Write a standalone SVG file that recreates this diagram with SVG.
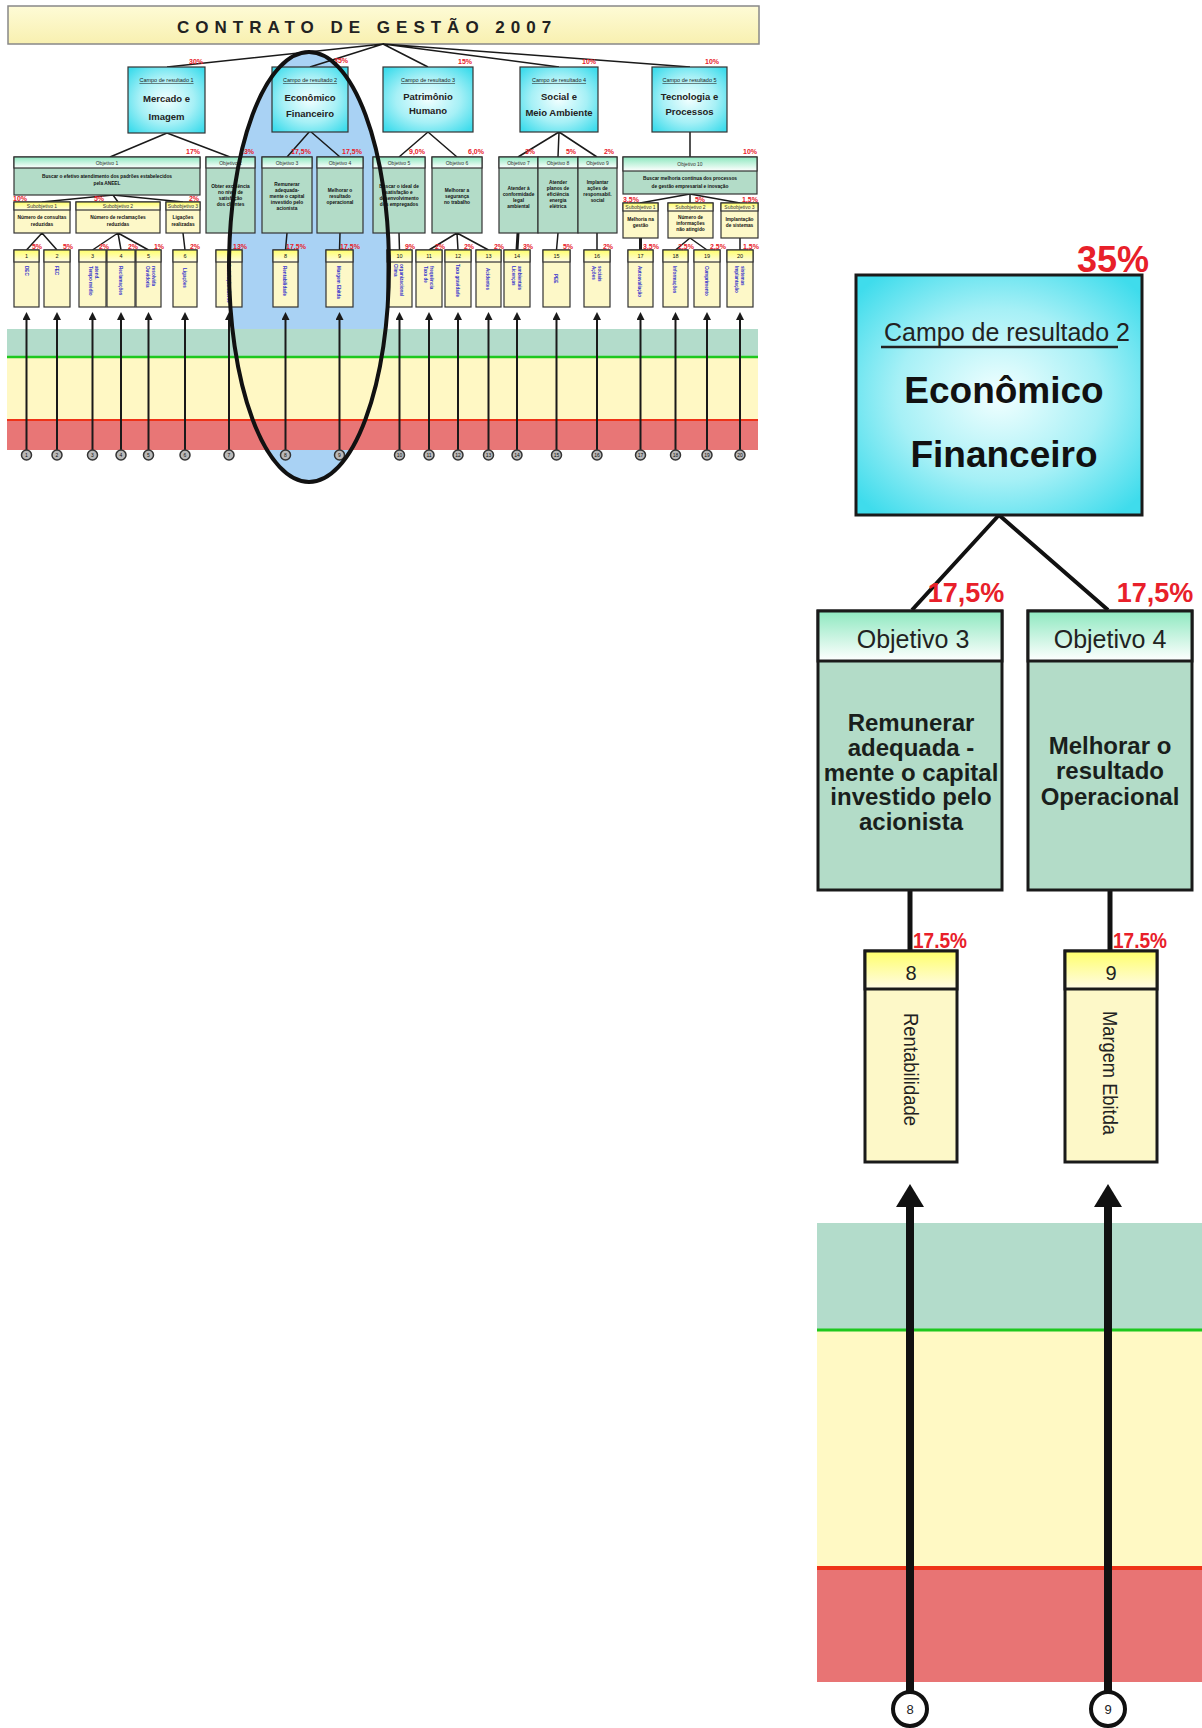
<svg xmlns="http://www.w3.org/2000/svg" width="1202" height="1728" viewBox="0 0 1202 1728">
<style>
text{font-family:"Liberation Sans",Arial,sans-serif;}
.ln{stroke:#1a1a1a;stroke-width:1.5;fill:none}
.lnT{stroke:#1a1a1a;stroke-width:3;fill:none}
.box{stroke:#333;stroke-width:1.2}
.cyan{fill:url(#cyanR)}
.objH{fill:url(#objH)}
.objB{fill:#b3dcc8}
.indH{fill:url(#indH)}
.indB{fill:#fdf8c8}
.pct{fill:#e8202a;font-weight:bold;font-size:7px;text-anchor:middle}
.tC{font-size:5.5px;text-decoration:underline;text-anchor:middle;fill:#222}
.tB{font-size:9.5px;font-weight:bold;text-anchor:middle;fill:#222}
.tH{font-size:5px;text-anchor:middle;fill:#333}
.tO{font-size:4.8px;font-weight:bold;text-anchor:middle;fill:#111}
.tN{font-size:5.5px;text-anchor:middle;fill:#111}
.tI{font-size:4.6px;font-weight:bold;fill:#3333cc}
.arS{stroke:#1a1a1a;stroke-width:2}
.cS{fill:#b8b8b8;stroke:#333;stroke-width:1.5}
.cN{font-size:5px;text-anchor:middle;fill:#111}
.bigBox{stroke:#1a1a1a;stroke-width:3}
.bigPct{fill:#e8202a;font-weight:bold}
.bigBody{font-size:24px;font-weight:bold;text-anchor:middle;fill:#1a1f1c}
</style>
<defs>
<radialGradient id="cyanR" cx="50%" cy="50%" r="65%">
<stop offset="0" stop-color="#f2ffff"/>
<stop offset="0.55" stop-color="#a6f0f6"/>
<stop offset="1" stop-color="#3fdcec"/>
</radialGradient>
<linearGradient id="objH" x1="0" y1="0" x2="0" y2="1">
<stop offset="0" stop-color="#8ee8c0"/>
<stop offset="1" stop-color="#ffffff"/>
</linearGradient>
<linearGradient id="indH" x1="0" y1="0" x2="0" y2="1">
<stop offset="0" stop-color="#ffff6a"/>
<stop offset="1" stop-color="#fffbe6"/>
</linearGradient>
<linearGradient id="titleG" x1="0" y1="0" x2="0" y2="1">
<stop offset="0" stop-color="#fefbd6"/>
<stop offset="1" stop-color="#f8f0b0"/>
</linearGradient>
<marker id="arS" markerUnits="userSpaceOnUse" viewBox="0 0 8 8" markerWidth="8" markerHeight="8" refX="0" refY="4" orient="auto"><path d="M0,0 L8,4 L0,8 z" fill="#1a1a1a"/></marker>
<marker id="arL" markerUnits="userSpaceOnUse" viewBox="0 0 23 28" markerWidth="23" markerHeight="28" refX="0" refY="14" orient="auto"><path d="M0,0 L23,14 L0,28 z" fill="#111"/></marker>
</defs>
<rect width="1202" height="1728" fill="#ffffff"/>

<!-- ellipse highlight fill (behind) -->
<ellipse id="highlight-fill" cx="309" cy="267" rx="80" ry="215" fill="#a9d2f4"/>

<!-- thumbnail bands -->
<g id="thumb-bands">
<rect x="7" y="329" width="751" height="28" fill="#b3dccb"/>
<rect x="7" y="358" width="751" height="62" fill="#fff8c4"/>
<rect x="7" y="421" width="751" height="29" fill="#e87676"/>
<line x1="7" y1="357" x2="758" y2="357" stroke="#1ec81e" stroke-width="2.5"/>
<line x1="7" y1="420" x2="758" y2="420" stroke="#ee3318" stroke-width="2"/>
</g>

<!-- thumbnail title -->
<g id="title">
<rect x="8" y="6" width="751" height="38" fill="url(#titleG)" stroke="#888" stroke-width="1.5"/>
<text x="177" y="33" font-size="17" font-weight="bold" letter-spacing="6" fill="#222">CONTRATO DE GESTÃO 2007</text>
</g>

<!-- thumbnail connectors -->
<g id="thumb-connectors">
<path class="ln" d="M383,44 L167,67 M383,44 L310,67 M383,44 L428,67 M383,44 L559,67 M383,44 L690,67"/>
<path class="ln" d="M167,133 L110,157 M167,133 L230,157 M310,131 L287,157 M310,131 L340,157 M428,132 L399,157 M428,132 L457,157 M559,132 L518,157 M559,132 L558,157 M559,132 L597,157 M690,132 L690,157"/>
<path class="ln" d="M113,195 L42,202 M113,195 L118,202 M113,195 L183,202 M690,194 L640,203 M690,194 L690,203 M690,194 L740,203"/>
<path class="ln" d="M42,233 L26.5,250 M42,233 L57,250 M118,233 L92.5,250 M118,233 L121,250 M118,233 L148.5,250 M183,233 L185,250 M230,233 L229,250 M287,233 L285.5,250 M340,233 L339.5,250 M399,233 L399.5,250 M457,233 L429,250 M457,233 L458,250 M457,233 L488.5,250 M558,233 L556.5,250 M597,233 L597,250 M690,238 L675.5,250 M690,238 L707,250 M740,238 L740,250"/>
<path class="lnT" d="M518,233 L517,250 M640.5,238 L640.5,250"/>
<g class="arS" marker-end="url(#arS)">
<line x1="26.5" y1="450" x2="26.5" y2="320"/>
<line x1="57" y1="450" x2="57" y2="320"/>
<line x1="92.5" y1="450" x2="92.5" y2="320"/>
<line x1="121" y1="450" x2="121" y2="320"/>
<line x1="148.5" y1="450" x2="148.5" y2="320"/>
<line x1="185" y1="450" x2="185" y2="320"/>
<line x1="229" y1="450" x2="229" y2="320"/>
<line x1="285.5" y1="450" x2="285.5" y2="320"/>
<line x1="339.5" y1="450" x2="339.5" y2="320"/>
<line x1="399.5" y1="450" x2="399.5" y2="320"/>
<line x1="429" y1="450" x2="429" y2="320"/>
<line x1="458" y1="450" x2="458" y2="320"/>
<line x1="488.5" y1="450" x2="488.5" y2="320"/>
<line x1="517" y1="450" x2="517" y2="320"/>
<line x1="556.5" y1="450" x2="556.5" y2="320"/>
<line x1="597" y1="450" x2="597" y2="320"/>
<line x1="640.5" y1="450" x2="640.5" y2="320"/>
<line x1="675.5" y1="450" x2="675.5" y2="320"/>
<line x1="707" y1="450" x2="707" y2="320"/>
<line x1="740" y1="450" x2="740" y2="320"/>
</g>
</g>

<!-- thumbnail campo nodes -->
<g id="t-campo1"><rect class="box cyan" x="128" y="67" width="77" height="66"/><text class="tC" x="166.5" y="82">Campo de resultado 1</text><text class="tB" x="166.5" y="102">Mercado e</text><text class="tB" x="166.5" y="120">Imagem</text><text class="pct" x="196" y="64" font-size="9">30%</text></g>
<g id="t-campo2"><rect class="box cyan" x="272" y="67" width="76" height="65"/><text class="tC" x="310" y="82">Campo de resultado 2</text><text class="tB" x="310" y="101" font-weight="normal">Econômico</text><text class="tB" x="310" y="117" font-weight="normal">Financeiro</text><text class="pct" x="341" y="63" font-size="9">35%</text></g>
<g id="t-campo3"><rect class="box cyan" x="383" y="67" width="90" height="65"/><text class="tC" x="428" y="82">Campo de resultado 3</text><text class="tB" x="428" y="100">Patrimônio</text><text class="tB" x="428" y="114">Humano</text><text class="pct" x="465" y="64" font-size="9">15%</text></g>
<g id="t-campo4"><rect class="box cyan" x="520" y="67" width="78" height="65"/><text class="tC" x="559" y="82">Campo de resultado 4</text><text class="tB" x="559" y="100">Social e</text><text class="tB" x="559" y="116">Meio Ambiente</text><text class="pct" x="589" y="64" font-size="9">10%</text></g>
<g id="t-campo5"><rect class="box cyan" x="652" y="67" width="75" height="65"/><text class="tC" x="689.5" y="82">Campo de resultado 5</text><text class="tB" x="689.5" y="100">Tecnologia e</text><text class="tB" x="689.5" y="115">Processos</text><text class="pct" x="712" y="64" font-size="9">10%</text></g>

<!-- thumbnail objectives -->
<g id="t-obj1"><rect class="box objB" x="14" y="157" width="186" height="38"/><rect class="box objH" x="14" y="157" width="186" height="11"/><text class="tH" x="107" y="165">Objetivo 1</text><text class="tO" x="107" y="178">Buscar o efetivo atendimento dos padrões estabelecidos</text><text class="tO" x="107" y="185">pela ANEEL</text><text class="pct" x="193" y="154">17%</text></g>
<g id="t-obj2"><rect class="box objB" x="206" y="157" width="49" height="76"/><rect class="box objH" x="206" y="157" width="49" height="11"/><text class="tH" x="230.5" y="165">Objetivo 2</text><text class="tO" x="230.5" y="188">Obter excelência</text><text class="tO" x="230.5" y="194">no nível de</text><text class="tO" x="230.5" y="200">satisfação</text><text class="tO" x="230.5" y="206">dos clientes</text><text class="pct" x="247" y="154">13%</text></g>
<g id="t-obj3"><rect class="box objB" x="262" y="157" width="50" height="76"/><rect class="box objH" x="262" y="157" width="50" height="11"/><text class="tH" x="287" y="165">Objetivo 3</text><text class="tO" x="287" y="186">Remunerar</text><text class="tO" x="287" y="192">adequada-</text><text class="tO" x="287" y="198">mente o capital</text><text class="tO" x="287" y="204">investido pelo</text><text class="tO" x="287" y="210">acionista</text><text class="pct" x="301" y="154">17,5%</text></g>
<g id="t-obj4"><rect class="box objB" x="317" y="157" width="46" height="76"/><rect class="box objH" x="317" y="157" width="46" height="11"/><text class="tH" x="340" y="165">Objetivo 4</text><text class="tO" x="340" y="192">Melhorar o</text><text class="tO" x="340" y="198">resultado</text><text class="tO" x="340" y="204">operacional</text><text class="pct" x="352" y="154">17,5%</text></g>
<g id="t-obj5"><rect class="box objB" x="373" y="157" width="52" height="76"/><rect class="box objH" x="373" y="157" width="52" height="11"/><text class="tH" x="399" y="165">Objetivo 5</text><text class="tO" x="399" y="188">Buscar o ideal de</text><text class="tO" x="399" y="194">satisfação e</text><text class="tO" x="399" y="200">desenvolvimento</text><text class="tO" x="399" y="206">dos empregados</text><text class="pct" x="417" y="154">9,0%</text></g>
<g id="t-obj6"><rect class="box objB" x="432" y="157" width="50" height="76"/><rect class="box objH" x="432" y="157" width="50" height="11"/><text class="tH" x="457" y="165">Objetivo 6</text><text class="tO" x="457" y="192">Melhorar a</text><text class="tO" x="457" y="198">segurança</text><text class="tO" x="457" y="204">no trabalho</text><text class="pct" x="476" y="154">6,0%</text></g>
<g id="t-obj7"><rect class="box objB" x="499" y="157" width="39" height="76"/><rect class="box objH" x="499" y="157" width="39" height="11"/><text class="tH" x="518.5" y="165">Objetivo 7</text><text class="tO" x="518.5" y="190">Atender à</text><text class="tO" x="518.5" y="196">conformidade</text><text class="tO" x="518.5" y="202">legal</text><text class="tO" x="518.5" y="208">ambiental</text><text class="pct" x="530" y="154">3%</text></g>
<g id="t-obj8"><rect class="box objB" x="538" y="157" width="40" height="76"/><rect class="box objH" x="538" y="157" width="40" height="11"/><text class="tH" x="558" y="165">Objetivo 8</text><text class="tO" x="558" y="184">Atender</text><text class="tO" x="558" y="190">planos de</text><text class="tO" x="558" y="196">eficiência</text><text class="tO" x="558" y="202">energia</text><text class="tO" x="558" y="208">elétrica</text><text class="pct" x="571" y="154">5%</text></g>
<g id="t-obj9"><rect class="box objB" x="578" y="157" width="39" height="76"/><rect class="box objH" x="578" y="157" width="39" height="11"/><text class="tH" x="597.5" y="165">Objetivo 9</text><text class="tO" x="597.5" y="184">Implantar</text><text class="tO" x="597.5" y="190">ações de</text><text class="tO" x="597.5" y="196">responsabil.</text><text class="tO" x="597.5" y="202">social</text><text class="pct" x="609" y="154">2%</text></g>
<g id="t-obj10"><rect class="box objB" x="623" y="157" width="134" height="37"/><rect class="box objH" x="623" y="157" width="134" height="14"/><text class="tH" x="690" y="166">Objetivo 10</text><text class="tO" x="690" y="180">Buscar melhoria contínua dos processos</text><text class="tO" x="690" y="188">de gestão empresarial e inovação</text><text class="pct" x="750" y="154">10%</text></g>

<!-- thumbnail sub-objectives -->
<g id="t-sub1"><rect class="box indB" x="14" y="202" width="56" height="31"/><rect class="box indH" x="14" y="202" width="56" height="8"/><text class="tH" x="42" y="208">Subobjetivo 1</text><text class="tO" x="42" y="219">Número de consultas</text><text class="tO" x="42" y="226">reduzidas</text><text class="pct" x="20" y="201">10%</text></g>
<g id="t-sub2"><rect class="box indB" x="76" y="202" width="84" height="31"/><rect class="box indH" x="76" y="202" width="84" height="8"/><text class="tH" x="118" y="208">Subobjetivo 2</text><text class="tO" x="118" y="219">Número de reclamações</text><text class="tO" x="118" y="226">reduzidas</text><text class="pct" x="99" y="201">5%</text></g>
<g id="t-sub3"><rect class="box indB" x="166" y="202" width="34" height="31"/><rect class="box indH" x="166" y="202" width="34" height="8"/><text class="tH" x="183" y="208">Subobjetivo 3</text><text class="tO" x="183" y="219">Ligações</text><text class="tO" x="183" y="226">realizadas</text><text class="pct" x="194" y="201">2%</text></g>
<g id="t-sub10a"><rect class="box indB" x="623" y="203" width="35" height="35"/><rect class="box indH" x="623" y="203" width="35" height="8"/><text class="tH" x="640.5" y="209">Subobjetivo 1</text><text class="tO" x="640.5" y="221">Melhoria na</text><text class="tO" x="640.5" y="227">gestão</text><text class="pct" x="631" y="202">3,5%</text></g>
<g id="t-sub10b"><rect class="box indB" x="668" y="203" width="45" height="35"/><rect class="box indH" x="668" y="203" width="45" height="8"/><text class="tH" x="690.5" y="209">Subobjetivo 2</text><text class="tO" x="690.5" y="219">Número de</text><text class="tO" x="690.5" y="225">informações</text><text class="tO" x="690.5" y="231">não atingido</text><text class="pct" x="700" y="202">5%</text></g>
<g id="t-sub10c"><rect class="box indB" x="721" y="203" width="37" height="35"/><rect class="box indH" x="721" y="203" width="37" height="8"/><text class="tH" x="739.5" y="209">Subobjetivo 3</text><text class="tO" x="739.5" y="221">Implantação</text><text class="tO" x="739.5" y="227">de sistemas</text><text class="pct" x="750" y="202">1,5%</text></g>

<!-- thumbnail indicators -->
<g id="t-ind1"><rect class="box indB" x="14" y="250" width="25" height="57"/><rect class="box indH" x="14" y="250" width="25" height="12"/><text class="tN" x="26.5" y="258">1</text><text class="tI" transform="translate(25,266) rotate(90)">DEC</text><text class="pct" x="37" y="249">5%</text></g>
<g id="t-ind2"><rect class="box indB" x="44" y="250" width="26" height="57"/><rect class="box indH" x="44" y="250" width="26" height="12"/><text class="tN" x="57" y="258">2</text><text class="tI" transform="translate(55,266) rotate(90)">FEC</text><text class="pct" x="68" y="249">5%</text></g>
<g id="t-ind3"><rect class="box indB" x="79" y="250" width="27" height="57"/><rect class="box indH" x="79" y="250" width="27" height="12"/><text class="tN" x="92.5" y="258">3</text><text class="tI" transform="translate(89,266) rotate(90)">Tempo médio</text><text class="tI" transform="translate(95,266) rotate(90)">atend.</text><text class="pct" x="104" y="249">2%</text></g>
<g id="t-ind4"><rect class="box indB" x="107" y="250" width="28" height="57"/><rect class="box indH" x="107" y="250" width="28" height="12"/><text class="tN" x="121" y="258">4</text><text class="tI" transform="translate(119,266) rotate(90)">Reclamações</text><text class="pct" x="133" y="249">2%</text></g>
<g id="t-ind5"><rect class="box indB" x="136" y="250" width="25" height="57"/><rect class="box indH" x="136" y="250" width="25" height="12"/><text class="tN" x="148.5" y="258">5</text><text class="tI" transform="translate(146,266) rotate(90)">Ouvidoria</text><text class="tI" transform="translate(152,266) rotate(90)">resolvida</text><text class="pct" x="159" y="249">1%</text></g>
<g id="t-ind6"><rect class="box indB" x="173" y="250" width="24" height="57"/><rect class="box indH" x="173" y="250" width="24" height="12"/><text class="tN" x="185" y="258">6</text><text class="tI" transform="translate(183,268) rotate(90)">Ligações</text><text class="pct" x="195" y="249">2%</text></g>
<g id="t-ind7"><rect class="box indB" x="216" y="250" width="26" height="57"/><rect class="box indH" x="216" y="250" width="26" height="12"/><text class="tN" x="229" y="258">7</text><text class="tI" transform="translate(227,264) rotate(90)">Satisfação cliente</text><text class="pct" x="240" y="249">13%</text></g>
<g id="t-ind8"><rect class="box indB" x="273" y="250" width="25" height="57"/><rect class="box indH" x="273" y="250" width="25" height="12"/><text class="tN" x="285.5" y="258">8</text><text class="tI" transform="translate(283,266) rotate(90)">Rentabilidade</text><text class="pct" x="296" y="249">17,5%</text></g>
<g id="t-ind9"><rect class="box indB" x="326" y="250" width="27" height="57"/><rect class="box indH" x="326" y="250" width="27" height="12"/><text class="tN" x="339.5" y="258">9</text><text class="tI" transform="translate(337,266) rotate(90)">Margem Ebitda</text><text class="pct" x="350" y="249">17,5%</text></g>
<g id="t-ind10"><rect class="box indB" x="387" y="250" width="25" height="57"/><rect class="box indH" x="387" y="250" width="25" height="12"/><text class="tN" x="399.5" y="258">10</text><text class="tI" transform="translate(394,264) rotate(90)">Clima</text><text class="tI" transform="translate(400,264) rotate(90)">organizacional</text><text class="pct" x="410" y="249">9%</text></g>
<g id="t-ind11"><rect class="box indB" x="416" y="250" width="26" height="57"/><rect class="box indH" x="416" y="250" width="26" height="12"/><text class="tN" x="429" y="258">11</text><text class="tI" transform="translate(424,266) rotate(90)">Taxa de</text><text class="tI" transform="translate(430,266) rotate(90)">frequência</text><text class="pct" x="440" y="249">2%</text></g>
<g id="t-ind12"><rect class="box indB" x="445" y="250" width="26" height="57"/><rect class="box indH" x="445" y="250" width="26" height="12"/><text class="tN" x="458" y="258">12</text><text class="tI" transform="translate(456,264) rotate(90)">Taxa gravidade</text><text class="pct" x="469" y="249">2%</text></g>
<g id="t-ind13"><rect class="box indB" x="476" y="250" width="25" height="57"/><rect class="box indH" x="476" y="250" width="25" height="12"/><text class="tN" x="488.5" y="258">13</text><text class="tI" transform="translate(486,268) rotate(90)">Acidentes</text><text class="pct" x="499" y="249">2%</text></g>
<g id="t-ind14"><rect class="box indB" x="504" y="250" width="26" height="57"/><rect class="box indH" x="504" y="250" width="26" height="12"/><text class="tN" x="517" y="258">14</text><text class="tI" transform="translate(512,266) rotate(90)">Licenças</text><text class="tI" transform="translate(518,266) rotate(90)">ambientais</text><text class="pct" x="528" y="249">3%</text></g>
<g id="t-ind15"><rect class="box indB" x="543" y="250" width="27" height="57"/><rect class="box indH" x="543" y="250" width="27" height="12"/><text class="tN" x="556.5" y="258">15</text><text class="tI" transform="translate(554,274) rotate(90)">PEE</text><text class="pct" x="568" y="249">5%</text></g>
<g id="t-ind16"><rect class="box indB" x="584" y="250" width="26" height="57"/><rect class="box indH" x="584" y="250" width="26" height="12"/><text class="tN" x="597" y="258">16</text><text class="tI" transform="translate(592,266) rotate(90)">Ações</text><text class="tI" transform="translate(598,266) rotate(90)">sociais</text><text class="pct" x="608" y="249">2%</text></g>
<g id="t-ind17"><rect class="box indB" x="628" y="250" width="25" height="57"/><rect class="box indH" x="628" y="250" width="25" height="12"/><text class="tN" x="640.5" y="258">17</text><text class="tI" transform="translate(638,266) rotate(90)">Autoavaliação</text><text class="pct" x="651" y="249">3,5%</text></g>
<g id="t-ind18"><rect class="box indB" x="663" y="250" width="25" height="57"/><rect class="box indH" x="663" y="250" width="25" height="12"/><text class="tN" x="675.5" y="258">18</text><text class="tI" transform="translate(673,266) rotate(90)">Informações</text><text class="pct" x="686" y="249">2,5%</text></g>
<g id="t-ind19"><rect class="box indB" x="694" y="250" width="26" height="57"/><rect class="box indH" x="694" y="250" width="26" height="12"/><text class="tN" x="707" y="258">19</text><text class="tI" transform="translate(705,266) rotate(90)">Cumprimento</text><text class="pct" x="718" y="249">2,5%</text></g>
<g id="t-ind20"><rect class="box indB" x="727" y="250" width="26" height="57"/><rect class="box indH" x="727" y="250" width="26" height="12"/><text class="tN" x="740" y="258">20</text><text class="tI" transform="translate(735,266) rotate(90)">Implantação</text><text class="tI" transform="translate(741,266) rotate(90)">sistemas</text><text class="pct" x="751" y="249">1,5%</text></g>

<!-- thumbnail circles -->
<g id="t-circles">
<circle class="cS" cx="26.5" cy="455" r="5"/><text class="cN" x="26.5" y="457">1</text>
<circle class="cS" cx="57" cy="455" r="5"/><text class="cN" x="57" y="457">2</text>
<circle class="cS" cx="92.5" cy="455" r="5"/><text class="cN" x="92.5" y="457">3</text>
<circle class="cS" cx="121" cy="455" r="5"/><text class="cN" x="121" y="457">4</text>
<circle class="cS" cx="148.5" cy="455" r="5"/><text class="cN" x="148.5" y="457">5</text>
<circle class="cS" cx="185" cy="455" r="5"/><text class="cN" x="185" y="457">6</text>
<circle class="cS" cx="229" cy="455" r="5"/><text class="cN" x="229" y="457">7</text>
<circle class="cS" cx="285.5" cy="455" r="5"/><text class="cN" x="285.5" y="457">8</text>
<circle class="cS" cx="339.5" cy="455" r="5"/><text class="cN" x="339.5" y="457">9</text>
<circle class="cS" cx="399.5" cy="455" r="5"/><text class="cN" x="399.5" y="457">10</text>
<circle class="cS" cx="429" cy="455" r="5"/><text class="cN" x="429" y="457">11</text>
<circle class="cS" cx="458" cy="455" r="5"/><text class="cN" x="458" y="457">12</text>
<circle class="cS" cx="488.5" cy="455" r="5"/><text class="cN" x="488.5" y="457">13</text>
<circle class="cS" cx="517" cy="455" r="5"/><text class="cN" x="517" y="457">14</text>
<circle class="cS" cx="556.5" cy="455" r="5"/><text class="cN" x="556.5" y="457">15</text>
<circle class="cS" cx="597" cy="455" r="5"/><text class="cN" x="597" y="457">16</text>
<circle class="cS" cx="640.5" cy="455" r="5"/><text class="cN" x="640.5" y="457">17</text>
<circle class="cS" cx="675.5" cy="455" r="5"/><text class="cN" x="675.5" y="457">18</text>
<circle class="cS" cx="707" cy="455" r="5"/><text class="cN" x="707" y="457">19</text>
<circle class="cS" cx="740" cy="455" r="5"/><text class="cN" x="740" y="457">20</text>
</g>

<!-- ellipse outline (on top) -->
<ellipse id="highlight" cx="309" cy="267" rx="80" ry="215" fill="none" stroke="#111" stroke-width="4"/>

<!-- ===== detail view ===== -->
<g id="detail-bands">
<rect x="817" y="1223" width="385" height="107" fill="#b3dccb"/>
<rect x="817" y="1331" width="385" height="236" fill="#fff9c4"/>
<rect x="817" y="1569" width="385" height="113" fill="#e87474"/>
<line x1="817" y1="1330" x2="1202" y2="1330" stroke="#1ec81e" stroke-width="3"/>
<line x1="817" y1="1568" x2="1202" y2="1568" stroke="#ee3318" stroke-width="4"/>
</g>

<g id="detail-connectors">
<path d="M999,515 L912,610 M999,515 L1108,610" stroke="#111" stroke-width="4" fill="none"/>
<path d="M910,890 L910,951 M1110,890 L1110,951" stroke="#111" stroke-width="5" fill="none"/>
<line x1="910" y1="1692" x2="910" y2="1207" stroke="#111" stroke-width="8" marker-end="url(#arL)"/>
<line x1="1108" y1="1692" x2="1108" y2="1207" stroke="#111" stroke-width="8" marker-end="url(#arL)"/>
</g>

<g id="d-campo2">
<rect class="bigBox" x="856" y="275" width="286" height="240" fill="url(#cyanR)"/>
<text class="bigPct" x="1113" y="272" font-size="36" text-anchor="middle">35%</text>
<text x="1007" y="341" font-size="25" text-anchor="middle" fill="#222">Campo de resultado 2</text>
<line x1="881" y1="347" x2="1118" y2="347" stroke="#222" stroke-width="2.5"/>
<text x="1004" y="403" font-size="37" font-weight="bold" text-anchor="middle" fill="#111">Econômico</text>
<text x="1004" y="467" font-size="37" font-weight="bold" text-anchor="middle" fill="#111">Financeiro</text>
</g>

<g id="d-obj3">
<rect class="bigBox" x="818" y="611" width="184" height="279" fill="#b3dcc8"/>
<rect class="bigBox" x="818" y="611" width="184" height="50" fill="url(#objH)"/>
<text class="bigPct" x="966" y="602" font-size="27" text-anchor="middle">17,5%</text>
<text x="913" y="648" font-size="25" text-anchor="middle" fill="#222">Objetivo 3</text>
<text class="bigBody" x="911" y="731">Remunerar</text>
<text class="bigBody" x="911" y="756">adequada -</text>
<text class="bigBody" x="911" y="781">mente o capital</text>
<text class="bigBody" x="911" y="805">investido pelo</text>
<text class="bigBody" x="911" y="830">acionista</text>
</g>

<g id="d-obj4">
<rect class="bigBox" x="1028" y="611" width="164" height="279" fill="#b3dcc8"/>
<rect class="bigBox" x="1028" y="611" width="164" height="50" fill="url(#objH)"/>
<text class="bigPct" x="1155" y="602" font-size="27" text-anchor="middle">17,5%</text>
<text x="1110" y="648" font-size="25" text-anchor="middle" fill="#222">Objetivo 4</text>
<text class="bigBody" x="1110" y="754">Melhorar o</text>
<text class="bigBody" x="1110" y="779">resultado</text>
<text class="bigBody" x="1110" y="805">Operacional</text>
</g>

<g id="d-ind8">
<rect class="bigBox" x="865" y="951" width="92" height="211" fill="#fdf8c8"/>
<rect class="bigBox" x="865" y="951" width="92" height="38" fill="url(#indH)"/>
<text class="bigPct" x="913" y="948" font-size="22" textLength="54" lengthAdjust="spacingAndGlyphs">17.5%</text>
<text x="911" y="980" font-size="20" text-anchor="middle" fill="#222">8</text>
<text transform="translate(904,1013) rotate(90)" font-size="21" fill="#222" textLength="113" lengthAdjust="spacingAndGlyphs">Rentabilidade</text>
</g>

<g id="d-ind9">
<rect class="bigBox" x="1065" y="951" width="92" height="211" fill="#fdf8c8"/>
<rect class="bigBox" x="1065" y="951" width="92" height="38" fill="url(#indH)"/>
<text class="bigPct" x="1113" y="948" font-size="22" textLength="54" lengthAdjust="spacingAndGlyphs">17.5%</text>
<text x="1111" y="980" font-size="20" text-anchor="middle" fill="#222">9</text>
<text transform="translate(1103,1011) rotate(90)" font-size="21" fill="#222" textLength="124" lengthAdjust="spacingAndGlyphs">Margem Ebitda</text>
</g>

<g id="d-circles">
<circle cx="910" cy="1709" r="17" fill="#fff" stroke="#111" stroke-width="4"/>
<text x="910" y="1714" font-size="13" text-anchor="middle" fill="#222">8</text>
<circle cx="1108" cy="1709" r="17" fill="#fff" stroke="#111" stroke-width="4"/>
<text x="1108" y="1714" font-size="13" text-anchor="middle" fill="#222">9</text>
</g>
</svg>
